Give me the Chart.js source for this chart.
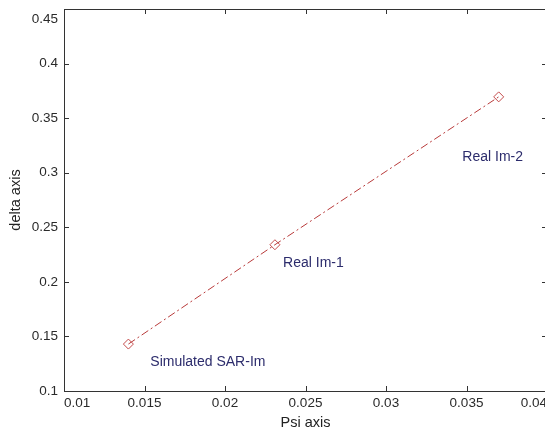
<!DOCTYPE html>
<html>
<head>
<meta charset="utf-8">
<script src="https://cdn.jsdelivr.net/npm/chart.js@4/dist/chart.umd.min.js"></script>
<style>
  html, body { margin:0; padding:0; background:#fff; overflow:hidden; }
  #wrap { width:545px; height:430px; overflow:hidden; }
</style>
</head>
<body>
<div id="wrap"><canvas id="psi-chart" width="562" height="430"></canvas></div>
<script>
// values
const psi = [0.0140, 0.0231, 0.0370];
const delta = [0.143, 0.234, 0.3695];
const pointNames = ['Simulated SAR-Im', 'Real Im-1', 'Real Im-2'];
// where each name is written (data units, left edge / middle)
const namePsi = [0.01536, 0.02361, 0.03474];
const nameDelta = [0.1268, 0.2172, 0.3143];
const xTicks = [0.01, 0.015, 0.02, 0.025, 0.03, 0.035, 0.04];
const yTicks = [0.1, 0.15, 0.2, 0.25, 0.3, 0.35, 0.4, 0.45];

const FONT = '"Liberation Sans", Arial, sans-serif';
const TICK_SIZE = 13.5;
const fmt = v => String(+(+v).toFixed(3));
const yMax = yTicks[yTicks.length - 1];

// frame, inward ticks and point names, matlab style
const matlabBits = {
    id: 'matlabBits',
    afterDraw(chart) {
        const ctx = chart.ctx;
        const a = chart.chartArea;
        const xs = chart.scales.x, ys = chart.scales.y;
        ctx.save();
        ctx.strokeStyle = '#333';
        ctx.lineWidth = 1;
        ctx.strokeRect(a.left + 0.5, a.top + 0.5, a.right - a.left, a.bottom - a.top);
        ctx.beginPath();
        xTicks.forEach(t => {
            const px = Math.round(xs.getPixelForValue(t)) + 0.5;
            ctx.moveTo(px, a.bottom); ctx.lineTo(px, a.bottom - 5);
            ctx.moveTo(px, a.top); ctx.lineTo(px, a.top + 5);
        });
        yTicks.forEach(t => {
            const py = Math.round(ys.getPixelForValue(t)) + 0.5;
            ctx.moveTo(a.left, py); ctx.lineTo(a.left + 5, py);
            ctx.moveTo(a.right, py); ctx.lineTo(a.right - 5, py);
        });
        ctx.stroke();
        // top y label sits just under the frame corner
        ctx.fillStyle = '#2a2a2a';
        ctx.font = TICK_SIZE + 'px ' + FONT;
        ctx.textAlign = 'right';
        ctx.textBaseline = 'top';
        ctx.fillText(fmt(yMax), a.left - 6, ys.getPixelForValue(yMax) + 4);
        ctx.fillStyle = '#2c2c6c';
        ctx.font = '14px ' + FONT;
        ctx.textAlign = 'left';
        ctx.textBaseline = 'middle';
        pointNames.forEach((n, i) => {
            ctx.fillText(n, xs.getPixelForValue(namePsi[i]), ys.getPixelForValue(nameDelta[i]));
        });
        ctx.restore();
    }
};

new Chart(document.getElementById('psi-chart').getContext('2d'), {
    type: 'scatter',
    data: {
        datasets: [{
            data: psi.map((p, i) => ({ x: p, y: delta[i] })),
            showLine: true,
            borderColor: '#b83a3a',
            borderWidth: 1,
            borderDash: [8, 3, 2, 3],
            pointStyle: 'rectRot',
            pointRadius: 5,
            pointBorderColor: '#c44a4a',
            pointBackgroundColor: 'rgba(255,255,255,0)',
            pointBorderWidth: 1
        }]
    },
    plugins: [matlabBits],
    options: {
        responsive: false,
        animation: false,
        layout: { padding: { top: 9, right: 15, left: 0, bottom: 0 } },
        plugins: { legend: { display: false }, tooltip: { enabled: false } },
        scales: {
            x: {
                type: 'linear', min: 0.01, max: 0.04,
                afterBuildTicks: s => { s.ticks = xTicks.map(v => ({ value: v })); },
                afterFit: s => { s.height = 39; s.paddingLeft = 0; s.paddingRight = 0; },
                grid: { display: false, drawTicks: false },
                border: { display: false },
                ticks: { callback: fmt, color: '#2a2a2a', padding: 4, maxRotation: 0, align: 'inner',
                         font: { family: FONT, size: TICK_SIZE } },
                title: { display: true, text: 'Psi axis', color: '#222', padding: { top: 0, bottom: 0 },
                         font: { family: FONT, size: 14.5, lineHeight: 1 } }
            },
            y: {
                type: 'linear', min: 0.1, max: yMax,
                afterBuildTicks: s => { s.ticks = yTicks.map(v => ({ value: v })); },
                afterFit: s => { s.width = 64; s.paddingTop = 0; s.paddingBottom = 0; },
                grid: { display: false, drawTicks: false },
                border: { display: false },
                ticks: { callback: v => (v === yMax ? '' : fmt(v)), color: '#2a2a2a', padding: 6,
                         font: { family: FONT, size: TICK_SIZE } },
                title: { display: true, text: 'delta axis', color: '#222', padding: { top: 7, bottom: 0 },
                         font: { family: FONT, size: 14.5 } }
            }
        }
    }
});
</script>
</body>
</html>
